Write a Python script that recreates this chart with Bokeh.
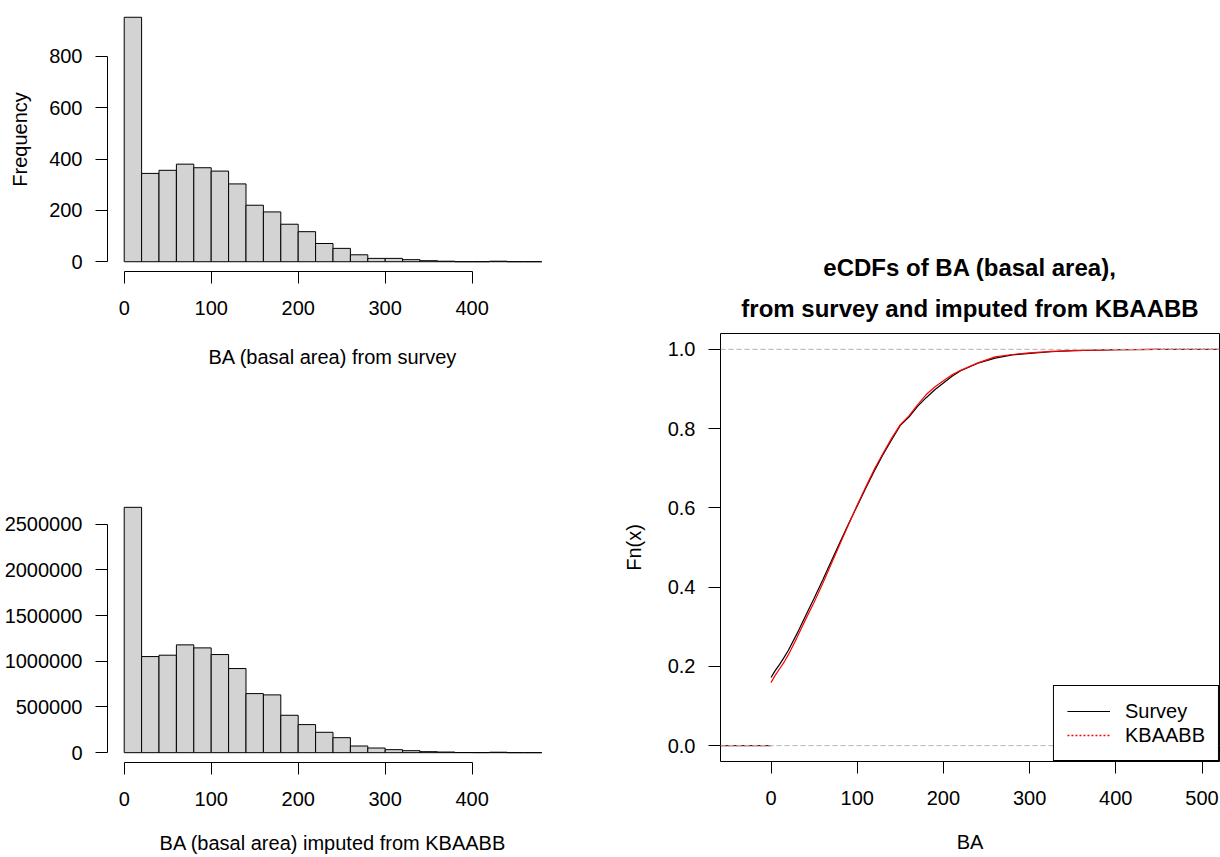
from bokeh.plotting import figure
from bokeh.layouts import row, column
from bokeh.models import (FixedTicker, NumeralTickFormatter, Span, Legend, LegendItem,
                          Title, ColumnDataSource, Range1d)
from bokeh.embed import file_html
from bokeh.resources import INLINE

# ---------------- data ----------------
bin_edges = list(range(0, 481, 20))
survey_counts = [952, 344, 356, 380, 366, 353, 303, 220, 194, 146, 117, 71, 52, 27,
                 13, 13, 8, 4, 2, 0, 0, 2, 0, 0]
kbaabb_counts = [2683000, 1051000, 1066000, 1179000, 1146000, 1073000, 920000, 646000,
                 632000, 409000, 307000, 223000, 164000, 73000, 51000, 33000, 22000,
                 11000, 7000, 2000, 1000, 5000, 0, 0]

hist_xticks = [0, 100, 200, 300, 400]
survey_yticks = [0, 200, 400, 600, 800]
kbaabb_yticks = [0, 500000, 1000000, 1500000, 2000000, 2500000]

ecdf_x = [0, 5, 10, 15, 20, 30, 40, 50, 60, 70, 80, 90, 100, 110, 120, 130, 140, 150,
          160, 170, 180, 190, 200, 210, 220, 240, 260, 280, 300, 325, 350, 400, 450]
survey_fn = [0.172, 0.190, 0.205, 0.222, 0.240, 0.282, 0.327, 0.372, 0.418, 0.466, 0.513,
             0.560, 0.605, 0.650, 0.694, 0.735, 0.772, 0.808, 0.829, 0.856, 0.878, 0.898,
             0.915, 0.932, 0.946, 0.965, 0.978, 0.986, 0.990, 0.994, 0.997, 0.999, 1.0]
kbaabb_fn = [0.159, 0.178, 0.194, 0.210, 0.229, 0.272, 0.318, 0.362, 0.409, 0.459, 0.509,
             0.558, 0.607, 0.653, 0.698, 0.738, 0.776, 0.810, 0.832, 0.860, 0.886, 0.905,
             0.921, 0.936, 0.947, 0.966, 0.981, 0.987, 0.991, 0.995, 0.997, 0.999, 1.0]
ecdf_xticks = [0, 100, 200, 300, 400, 500]
ecdf_yticks = [0.0, 0.2, 0.4, 0.6, 0.8, 1.0]
ref_levels = [0.0, 1.0]

FONT = "Liberation Sans"
FS = "20px"


def style_axes(p, label_gap):
    for ax in (p.xaxis[0], p.yaxis[0]):
        ax.major_label_text_font = FONT
        ax.major_label_text_font_size = FS
        ax.major_label_text_color = "black"
        ax.axis_label_text_font = FONT
        ax.axis_label_text_font_size = FS
        ax.axis_label_text_font_style = "normal"
        ax.axis_label_text_color = "black"
        ax.major_tick_out = 12
        ax.major_tick_in = 0
        ax.minor_tick_out = 0
        ax.minor_tick_in = 0
        ax.axis_line_color = "black"
        ax.major_tick_line_color = "black"
    p.xaxis[0].major_label_standoff = 17
    p.xaxis[0].axis_label_standoff = label_gap
    p.yaxis[0].major_label_standoff = 13
    p.yaxis[0].major_label_orientation = "horizontal"
    p.grid.visible = False


def make_hist(counts, yticks, xlabel, ylabel, height, b_top, b_bottom, label_gap):
    top_val = max(counts)
    ymin, ymax = -0.04 * top_val, 1.04 * top_val
    span = bin_edges[-1] - bin_edges[0]
    xmin, xmax = bin_edges[0] - 0.04 * span, bin_edges[-1] + 0.04 * span
    p = figure(width=610, height=height, output_backend="svg", toolbar_location=None,
               x_range=Range1d(xmin, xmax), y_range=Range1d(ymin, ymax),
               min_border_left=107, min_border_right=52, min_border_top=b_top,
               min_border_bottom=b_bottom)
    p.outline_line_color = None
    src = ColumnDataSource(dict(left=bin_edges[:-1], right=bin_edges[1:],
                                top=counts, bottom=[0] * len(counts)))
    p.quad(left="left", right="right", top="top", bottom="bottom", source=src,
           fill_color="#D3D3D3", line_color="black", line_width=1)
    style_axes(p, label_gap)
    p.xaxis[0].ticker = FixedTicker(ticks=hist_xticks)
    p.xaxis[0].bounds = (hist_xticks[0], hist_xticks[-1])
    p.yaxis[0].ticker = FixedTicker(ticks=yticks)
    p.yaxis[0].bounds = (yticks[0], yticks[-1])
    p.xaxis[0].formatter = NumeralTickFormatter(format="0")
    p.yaxis[0].formatter = NumeralTickFormatter(format="0")
    p.xaxis[0].axis_label = xlabel
    if ylabel:
        p.yaxis[0].axis_label = ylabel
        p.yaxis[0].axis_label_standoff = 15
    return p


p1 = make_hist(survey_counts, survey_yticks, "BA (basal area) from survey", "Frequency",
               428, 7, 157, 28)
p2 = make_hist(kbaabb_counts, kbaabb_yticks, "BA (basal area) imputed from KBAABB", None,
               429, 69, 95, 23)

# ---------------- eCDF panel ----------------
x0, x1 = -58.6, 520.3
p3 = figure(width=610, height=857, output_backend="svg", toolbar_location=None,
            x_range=Range1d(x0, x1), y_range=Range1d(-0.04, 1.04),
            min_border_left=110, min_border_right=1, min_border_top=333,
            min_border_bottom=96)
p3.outline_line_color = "black"
p3.outline_line_width = 1
style_axes(p3, 23)
p3.xaxis[0].axis_line_color = None
p3.yaxis[0].axis_line_color = None
p3.xaxis[0].ticker = FixedTicker(ticks=ecdf_xticks)
p3.yaxis[0].ticker = FixedTicker(ticks=ecdf_yticks)
p3.xaxis[0].formatter = NumeralTickFormatter(format="0")
p3.yaxis[0].formatter = NumeralTickFormatter(format="0.0")
p3.xaxis[0].axis_label = "BA"
p3.yaxis[0].axis_label = "Fn(x)"
p3.yaxis[0].axis_label_standoff = 20

for lev in ref_levels:
    p3.add_layout(Span(location=lev, dimension="width", line_color="#B3B3B3",
                       line_width=1, line_dash="5 3"))

# left and right flat parts of the step functions
lead_black = p3.line([x0, ecdf_x[0]], [0, 0], line_color="black", line_width=1)
p3.line([ecdf_x[-1], x1], [survey_fn[-1], survey_fn[-1]], line_color="black", line_width=1)
p3.line(ecdf_x, survey_fn, line_color="black", line_width=1.2)
p3.line(ecdf_x, kbaabb_fn, line_color="red", line_width=1.2)
lead_red = p3.line([x0, ecdf_x[0]], [0, 0], line_color="red", line_width=1.4, line_dash="2 2")
p3.line([ecdf_x[-1], x1], [kbaabb_fn[-1], kbaabb_fn[-1]], line_color="red", line_width=1.4,
        line_dash="2 2")

legend = Legend(items=[LegendItem(label="Survey", renderers=[lead_black]),
                       LegendItem(label="KBAABB", renderers=[lead_red])],
                location="bottom_right", margin=0, padding=13, spacing=0,
                glyph_width=43, glyph_height=24, label_height=24, label_standoff=15,
                label_text_font=FONT, label_text_font_size=FS, label_text_color="black",
                border_line_color="black", border_line_width=1, border_line_alpha=1,
                background_fill_color="white", background_fill_alpha=1)
p3.add_layout(legend)

t2 = Title(text="from survey and imputed from KBAABB", align="center",
           text_font=FONT, text_font_size="24px", text_font_style="bold",
           text_color="black", standoff=24)
t1 = Title(text="eCDFs of BA (basal area),", align="center",
           text_font=FONT, text_font_size="24px", text_font_style="bold",
           text_color="black", standoff=0)
p3.add_layout(t2, "above")
p3.add_layout(t1, "above")

layout = row(column(p1, p2), p3)
open("out.html", "w").write(file_html(layout, INLINE))
